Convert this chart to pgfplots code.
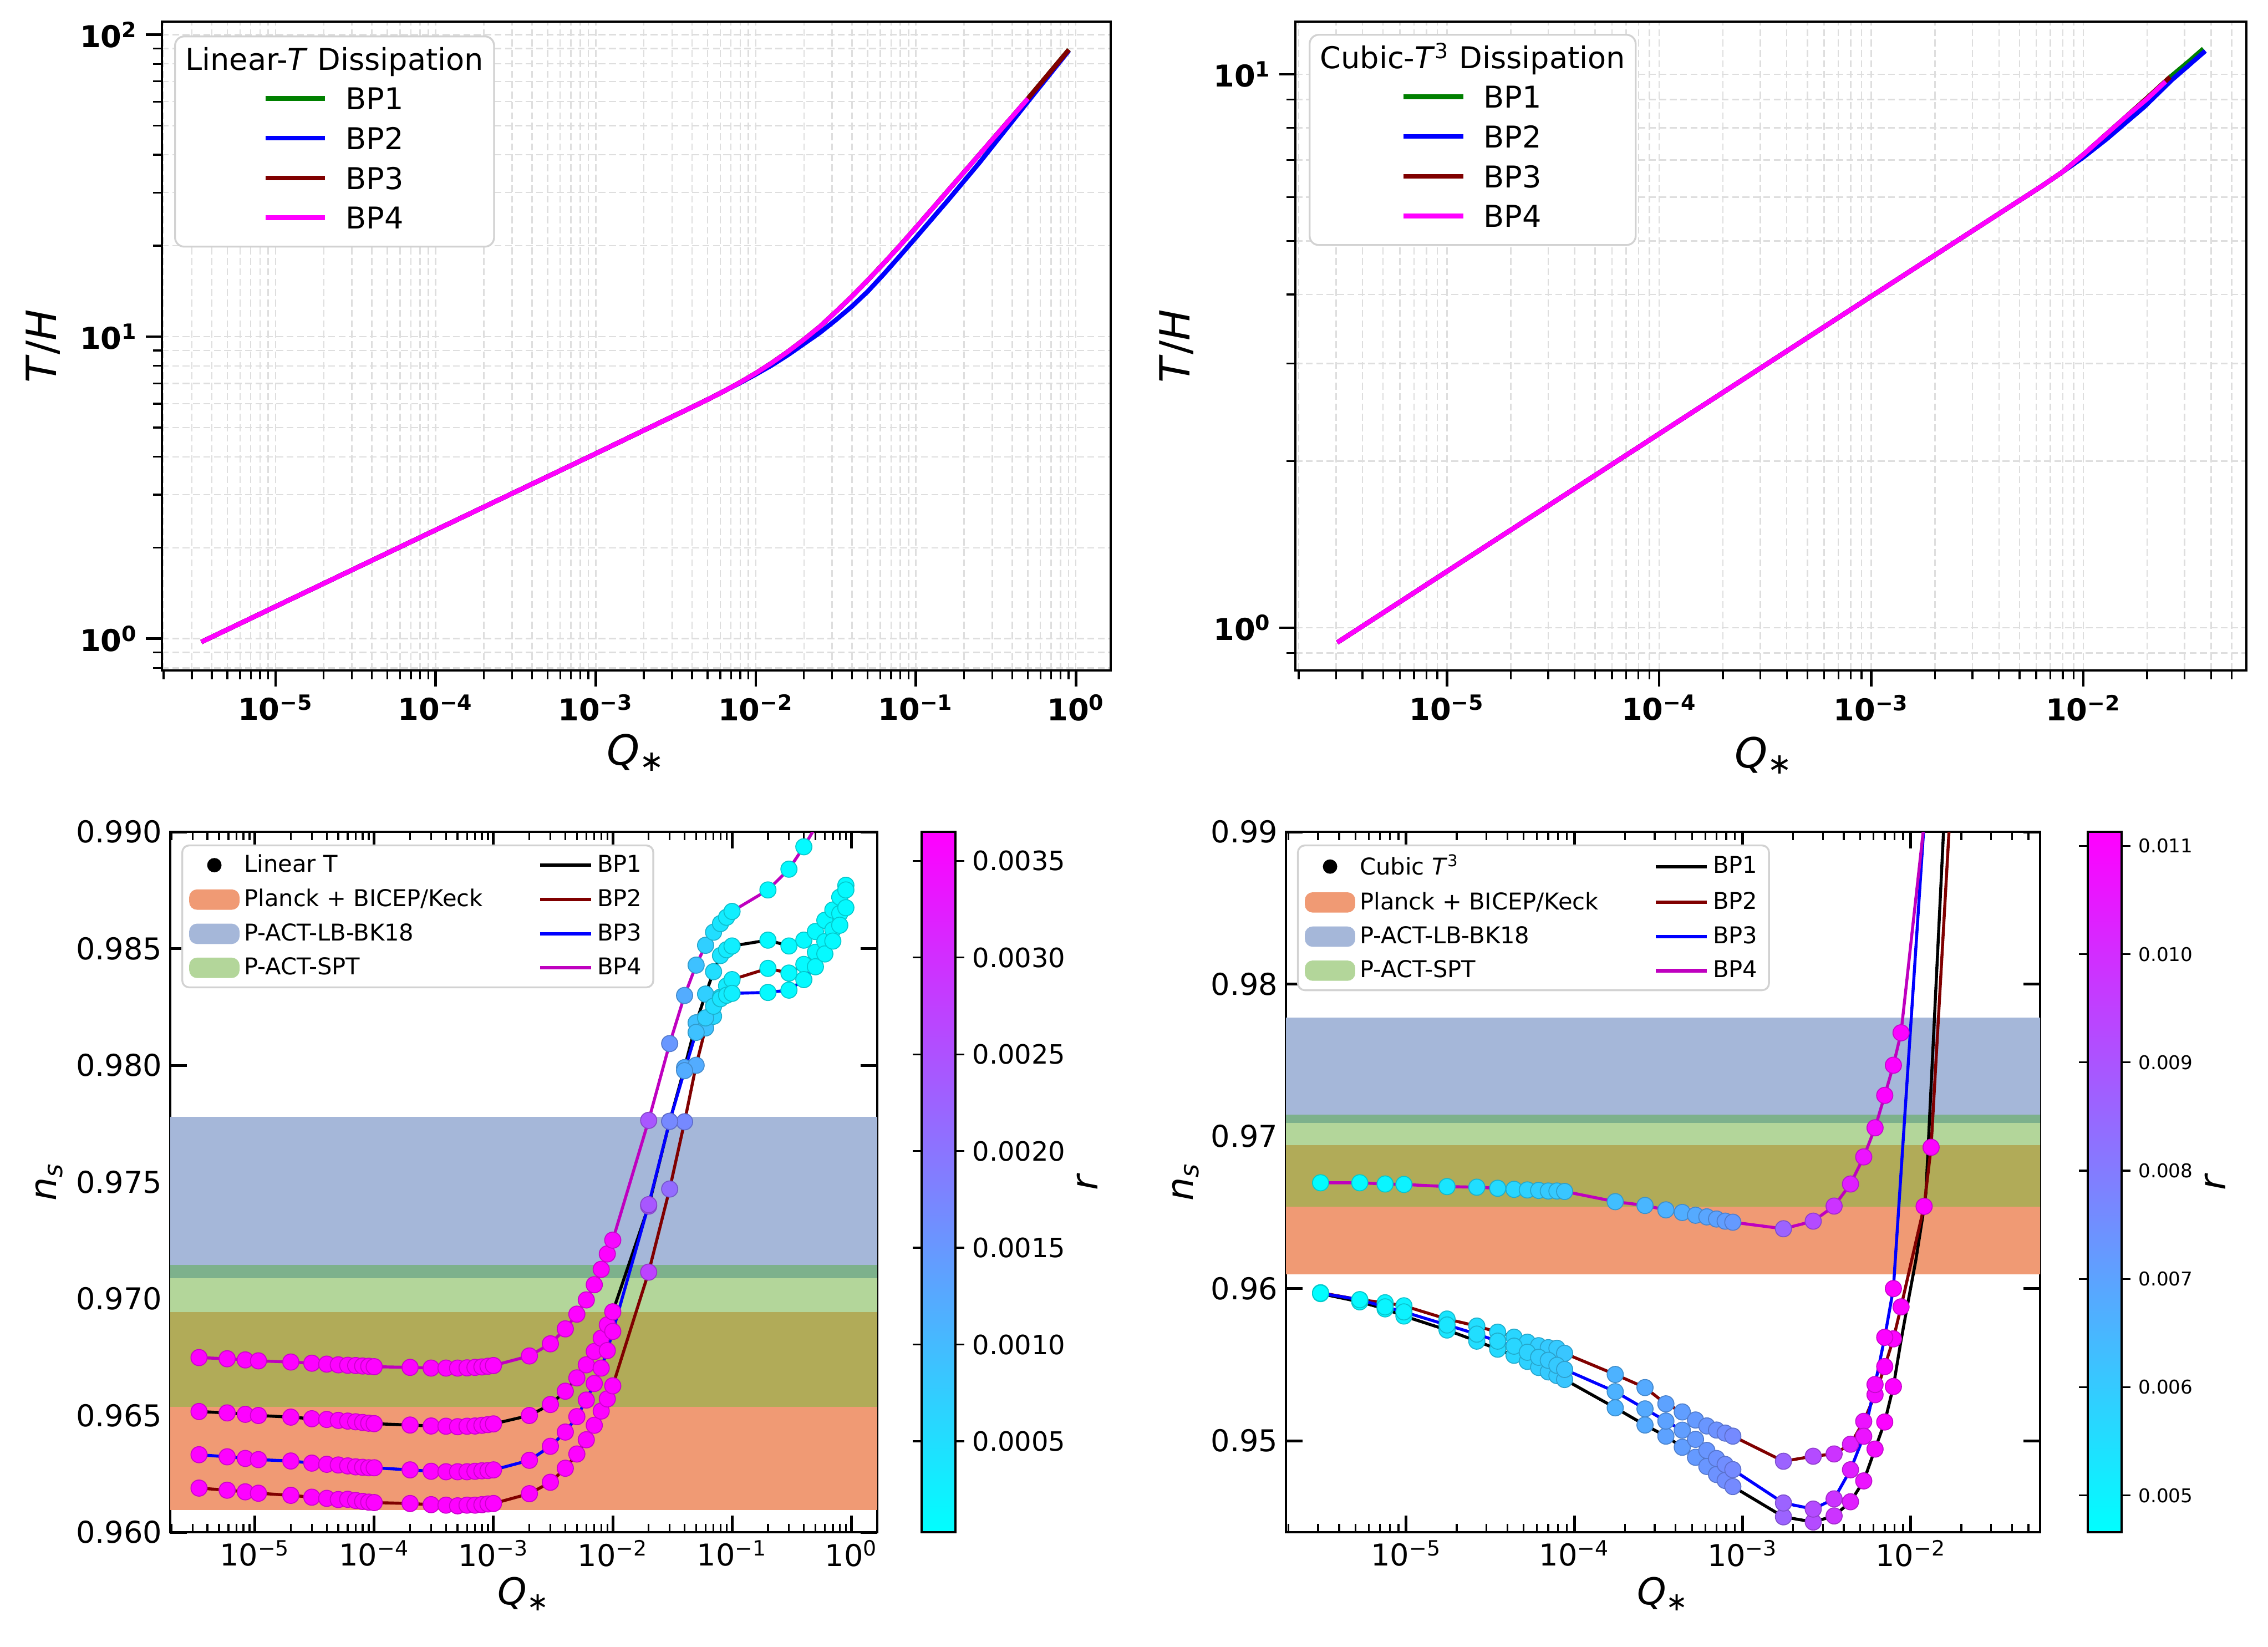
\documentclass[border=0pt]{standalone}
\usepackage{fontspec}
\setmainfont{DejaVu Sans}
\usepackage{pgfplots}
\usepackage{pgfplotstable}
\pgfplotsset{compat=1.18}

\definecolor{cO}{RGB}{240,154,116}
\definecolor{cOG}{RGB}{177,171,88}
\definecolor{cG}{RGB}{179,214,154}
\definecolor{cGB}{RGB}{125,177,140}
\definecolor{cB}{RGB}{165,183,217}
\definecolor{mgreen}{RGB}{0,128,0}
\definecolor{mblue}{RGB}{0,0,255}
\definecolor{mmaroon}{RGB}{128,0,0}
\definecolor{mmag}{RGB}{255,0,255}
\definecolor{mm}{RGB}{191,0,191}
\definecolor{gridc}{RGB}{222,222,222}
\definecolor{legc}{RGB}{210,210,210}

\newcommand{\bsci}[1]{\textbf{10\textsuperscript{#1}}}
\newcommand{\rsci}[1]{10\textsuperscript{#1}}

% ---------- Linear T tables: Q ns r ----------
\pgfplotstableread{
Q ns r
3.4e-6 0.96517 0.0036
5.85e-6 0.96511 0.0036
8.3e-6 0.96505 0.0036
1.07e-5 0.96500 0.0036
2e-5 0.96493 0.0036
3e-5 0.96486 0.0036
4e-5 0.96483 0.0036
5e-5 0.96479 0.0036
6e-5 0.96476 0.0036
7e-5 0.96473 0.0036
8e-5 0.96470 0.0036
9e-5 0.96467 0.0036
1e-4 0.96465 0.0036
2e-4 0.96459 0.0036
3e-4 0.96455 0.0036
4e-4 0.96454 0.0036
5e-4 0.96452 0.0036
6e-4 0.96454 0.0036
7e-4 0.96455 0.0036
8e-4 0.96458 0.0036
9e-4 0.96461 0.0036
1e-3 0.96464 0.0036
2e-3 0.96500 0.0036
3e-3 0.96547 0.0036
4e-3 0.96604 0.0036
5e-3 0.96661 0.0036
6e-3 0.96717 0.0036
7e-3 0.96774 0.0036
8e-3 0.96831 0.0036
9e-3 0.96888 0.0036
1e-2 0.96944 0.0036
2e-2 0.97397 0.0024
3e-2 0.97760 0.0017
4e-2 0.97990 0.0012
5e-2 0.98182 0.0009
6e-2 0.98305 0.0007
7e-2 0.98401 0.0005
8e-2 0.98470 0.0004
9e-2 0.98495 0.0003
0.1 0.98511 0.00025
0.2 0.98536 0.0001
0.3 0.98511 0.0001
0.4 0.98536 0.0001
0.5 0.98573 0.0001
0.6 0.98621 0.0001
0.7 0.98665 0.0001
0.8 0.98720 0.0001
0.9 0.98771 0.0001
}\LinA

\pgfplotstableread{
Q ns r
3.4e-6 0.96189 0.0036
5.85e-6 0.96180 0.0036
8.3e-6 0.96173 0.0036
1.07e-5 0.96167 0.0036
2e-5 0.96158 0.0036
3e-5 0.96150 0.0036
4e-5 0.96145 0.0036
5e-5 0.96140 0.0036
6e-5 0.96141 0.0036
7e-5 0.96136 0.0036
8e-5 0.96132 0.0036
9e-5 0.96129 0.0036
1e-4 0.96127 0.0036
2e-4 0.96123 0.0036
3e-4 0.96118 0.0036
4e-4 0.96116 0.0036
5e-4 0.96113 0.0036
6e-4 0.96116 0.0036
7e-4 0.96116 0.0036
8e-4 0.96118 0.0036
9e-4 0.96121 0.0036
1e-3 0.96123 0.0036
2e-3 0.96165 0.0036
3e-3 0.96214 0.0036
4e-3 0.96274 0.0036
5e-3 0.96335 0.0036
6e-3 0.96396 0.0036
7e-3 0.96458 0.0036
8e-3 0.96519 0.0036
9e-3 0.96571 0.0036
1e-2 0.96627 0.0036
2e-2 0.97114 0.0027
3e-2 0.97470 0.0021
4e-2 0.97758 0.0017
5e-2 0.98000 0.0012
6e-2 0.98160 0.0009
7e-2 0.98210 0.0006
8e-2 0.98292 0.0004
9e-2 0.98340 0.0003
0.1 0.98367 0.00025
0.2 0.98415 0.0001
0.3 0.98395 0.0001
0.4 0.98432 0.0001
0.5 0.98484 0.0001
0.6 0.98530 0.0001
0.7 0.98580 0.0001
0.8 0.98650 0.0001
0.9 0.98751 0.0001
}\LinB

\pgfplotstableread{
Q ns r
3.4e-6 0.96332 0.0036
5.85e-6 0.96323 0.0036
8.3e-6 0.96316 0.0036
1.07e-5 0.96311 0.0036
2e-5 0.96305 0.0036
3e-5 0.96296 0.0036
4e-5 0.96291 0.0036
5e-5 0.96288 0.0036
6e-5 0.96284 0.0036
7e-5 0.96280 0.0036
8e-5 0.96278 0.0036
9e-5 0.96276 0.0036
1e-4 0.96276 0.0036
2e-4 0.96267 0.0036
3e-4 0.96261 0.0036
4e-4 0.96259 0.0036
5e-4 0.96259 0.0036
6e-4 0.96259 0.0036
7e-4 0.96261 0.0036
8e-4 0.96263 0.0036
9e-4 0.96264 0.0036
1e-3 0.96267 0.0036
2e-3 0.96308 0.0036
3e-3 0.96368 0.0036
4e-3 0.96429 0.0036
5e-3 0.96495 0.0036
6e-3 0.96566 0.0036
7e-3 0.96637 0.0036
8e-3 0.96703 0.0036
9e-3 0.96778 0.0036
1e-2 0.96860 0.0036
2e-2 0.97403 0.0024
3e-2 0.97760 0.0017
4e-2 0.97977 0.0012
5e-2 0.98141 0.0009
6e-2 0.98203 0.0007
7e-2 0.98253 0.0005
8e-2 0.98285 0.0004
9e-2 0.98300 0.0003
0.1 0.98308 0.00025
0.2 0.98312 0.0001
0.3 0.98322 0.0001
0.4 0.98367 0.0001
0.5 0.98422 0.0001
0.6 0.98477 0.0001
0.7 0.98532 0.0001
0.8 0.98600 0.0001
0.9 0.98675 0.0001
}\LinC

\pgfplotstableread{
Q ns r
3.4e-6 0.96748 0.0036
5.85e-6 0.96743 0.0036
8.3e-6 0.96738 0.0036
1.07e-5 0.96734 0.0036
2e-5 0.96729 0.0036
3e-5 0.96724 0.0036
4e-5 0.96720 0.0036
5e-5 0.96717 0.0036
6e-5 0.96715 0.0036
7e-5 0.96714 0.0036
8e-5 0.96712 0.0036
9e-5 0.96711 0.0036
1e-4 0.96709 0.0036
2e-4 0.96706 0.0036
3e-4 0.96703 0.0036
4e-4 0.96703 0.0036
5e-4 0.96703 0.0036
6e-4 0.96704 0.0036
7e-4 0.96706 0.0036
8e-4 0.96708 0.0036
9e-4 0.96711 0.0036
1e-3 0.96714 0.0036
2e-3 0.96755 0.0036
3e-3 0.96807 0.0036
4e-3 0.96871 0.0036
5e-3 0.96934 0.0036
6e-3 0.96995 0.0036
7e-3 0.97060 0.0036
8e-3 0.97126 0.0036
9e-3 0.97192 0.0036
1e-2 0.97251 0.0035
2e-2 0.97764 0.0024
3e-2 0.98093 0.0015
4e-2 0.98299 0.0012
5e-2 0.98429 0.0009
6e-2 0.98514 0.0007
7e-2 0.98570 0.0005
8e-2 0.98607 0.0004
9e-2 0.98634 0.0003
0.1 0.98659 0.00025
0.2 0.98751 0.0001
0.3 0.98840 0.0001
0.4 0.98936 0.0001
0.5 0.99020 0.0001
}\LinD

% ---------- Cubic T^3 tables: Q ns P r ----------
\pgfplotstableread{
Q ns P r
3.1e-6 0.95967 0.95967 0.0047
5.3e-6 0.95913 0.95913 0.0048
7.5e-6 0.95867 0.95867 0.0049
9.7e-6 0.95820 0.95820 0.0050
1.75e-5 0.95728 0.95728 0.0053
2.63e-5 0.95655 0.95655 0.0055
3.5e-5 0.95602 0.95602 0.0056
4.38e-5 0.95562 0.95562 0.0057
5.25e-5 0.95522 0.95522 0.0058
6.13e-5 0.95482 0.95482 0.0059
7.0e-5 0.95453 0.95453 0.0060
7.88e-5 0.95429 0.95429 0.0060
8.75e-5 0.95403 0.95403 0.0061
1.75e-4 0.95217 0.95217 0.0066
2.63e-4 0.95104 0.95104 0.0068
3.5e-4 0.95031 0.95031 0.0070
4.38e-4 0.94958 0.94958 0.0071
5.25e-4 0.94892 0.94892 0.0072
6.13e-4 0.94832 0.94832 0.0073
7.0e-4 0.94779 0.94779 0.0074
7.88e-4 0.94740 0.94740 0.0075
8.75e-4 0.94700 0.94700 0.0076
1.75e-3 0.94501 0.94501 0.0086
2.63e-3 0.94467 0.94467 0.0092
3.5e-3 0.94507 0.94507 0.0098
4.38e-3 0.94600 0.94600 0.0103
5.25e-3 0.94737 0.94737 0.0106
6.13e-3 0.94946 0.94946 0.0108
7.0e-3 0.95124 0.95124 0.0110
7.88e-3 0.95357 0.95357 0.0110
8.75e-3 0.95660 nan 0.0110
9.64e-3 0.95915 nan 0.0110
1.07e-2 0.96183 nan 0.0110
1.18e-2 0.96481 nan 0.0110
1.23e-2 0.96630 nan 0.0110
1.75e-2 1.00100 nan 0.0110
}\CubA

\pgfplotstableread{
Q ns P r
3.1e-6 0.95973 0.95973 0.0047
5.3e-6 0.95927 0.95927 0.0048
7.5e-6 0.95907 0.95907 0.0049
9.7e-6 0.95887 0.95887 0.0050
1.75e-5 0.95800 0.95800 0.0053
2.63e-5 0.95754 0.95754 0.0055
3.5e-5 0.95714 0.95714 0.0056
4.38e-5 0.95681 0.95681 0.0057
5.25e-5 0.95648 0.95648 0.0058
6.13e-5 0.95625 0.95625 0.0059
7.0e-5 0.95612 0.95612 0.0060
7.88e-5 0.95608 0.95608 0.0060
8.75e-5 0.95575 0.95575 0.0061
1.75e-4 0.95436 0.95436 0.0066
2.63e-4 0.95350 0.95350 0.0068
3.5e-4 0.95243 0.95243 0.0070
4.38e-4 0.95190 0.95190 0.0071
5.25e-4 0.95137 0.95137 0.0072
6.13e-4 0.95098 0.95098 0.0073
7.0e-4 0.95071 0.95071 0.0074
7.88e-4 0.95051 0.95051 0.0075
8.75e-4 0.95031 0.95031 0.0076
1.75e-3 0.94866 0.94866 0.0086
2.63e-3 0.94899 0.94899 0.0092
3.5e-3 0.94914 0.94914 0.0098
4.38e-3 0.94978 0.94978 0.0103
5.25e-3 0.95128 0.95128 0.0106
6.13e-3 0.95303 0.95303 0.0108
7.0e-3 0.95488 0.95488 0.0110
7.88e-3 0.95670 0.95670 0.0110
8.75e-3 0.95880 0.95880 0.0110
1.01e-2 0.96183 nan 0.0110
1.2e-2 0.96540 0.96540 0.0110
1.32e-2 0.96928 0.96928 0.0110
1.75e-2 0.99312 nan 0.0110
}\CubB

\pgfplotstableread{
Q ns P r
3.1e-6 0.95970 0.95970 0.0047
5.3e-6 0.95927 0.95927 0.0048
7.5e-6 0.95880 0.95880 0.0049
9.7e-6 0.95847 0.95847 0.0050
1.75e-5 0.95761 0.95761 0.0053
2.63e-5 0.95701 0.95701 0.0055
3.5e-5 0.95655 0.95655 0.0056
4.38e-5 0.95622 0.95622 0.0057
5.25e-5 0.95582 0.95582 0.0058
6.13e-5 0.95549 0.95549 0.0059
7.0e-5 0.95529 0.95529 0.0060
7.88e-5 0.95496 0.95496 0.0060
8.75e-5 0.95469 0.95469 0.0061
1.75e-4 0.95323 0.95323 0.0066
2.63e-4 0.95210 0.95210 0.0068
3.5e-4 0.95130 0.95130 0.0070
4.38e-4 0.95070 0.95070 0.0071
5.25e-4 0.95010 0.95010 0.0072
6.13e-4 0.94937 0.94937 0.0073
7.0e-4 0.94884 0.94884 0.0074
7.88e-4 0.94845 0.94845 0.0075
8.75e-4 0.94811 0.94811 0.0076
1.75e-3 0.94592 0.94592 0.0086
2.63e-3 0.94552 0.94552 0.0092
3.5e-3 0.94619 0.94619 0.0098
4.38e-3 0.94810 0.94810 0.0103
5.25e-3 0.95030 0.95030 0.0106
6.13e-3 0.95370 0.95370 0.0108
7.0e-3 0.95680 0.95680 0.0110
7.88e-3 0.96000 0.96000 0.0110
1.75e-2 1.01800 nan 0.0110
}\CubC

\pgfplotstableread{
Q ns P r
3.1e-6 0.96695 0.96695 0.0047
5.3e-6 0.96695 0.96695 0.0048
7.5e-6 0.96687 0.96687 0.0049
9.7e-6 0.96684 0.96684 0.0050
1.75e-5 0.96670 0.96670 0.0053
2.63e-5 0.96666 0.96666 0.0055
3.5e-5 0.96659 0.96659 0.0056
4.38e-5 0.96652 0.96652 0.0057
5.25e-5 0.96648 0.96648 0.0058
6.13e-5 0.96645 0.96645 0.0059
7.0e-5 0.96641 0.96641 0.0060
7.88e-5 0.96641 0.96641 0.0060
8.75e-5 0.96638 0.96638 0.0061
1.75e-4 0.96571 0.96571 0.0063
2.63e-4 0.96546 0.96546 0.0065
3.5e-4 0.96517 0.96517 0.0066
4.38e-4 0.96500 0.96500 0.0067
5.25e-4 0.96482 0.96482 0.0068
6.13e-4 0.96471 0.96471 0.0069
7.0e-4 0.96457 0.96457 0.0070
7.88e-4 0.96443 0.96443 0.0071
8.75e-4 0.96436 0.96436 0.0072
1.75e-3 0.96393 0.96393 0.0086
2.63e-3 0.96443 0.96443 0.0092
3.5e-3 0.96542 0.96542 0.0098
4.38e-3 0.96687 0.96687 0.0103
5.25e-3 0.96865 0.96865 0.0106
6.13e-3 0.97056 0.97056 0.0108
7.0e-3 0.97269 0.97269 0.0110
7.88e-3 0.97467 0.97467 0.0110
8.75e-3 0.97680 0.97680 0.0110
1.75e-2 1.00700 nan 0.0110
}\CubD

\begin{document}
\begin{tikzpicture}
\path[use as bounding box] (0,0) rectangle (981.6pt,712.56pt);

% ================= TOP LEFT =================
\begin{axis}[name=tl, at={(70.08pt,422.4pt)}, anchor=south west,
  scale only axis, width=410.64pt, height=280.8pt,
  xmode=log, ymode=log,
  xmin=1.95e-6, xmax=1.65, ymin=0.785, ymax=110.4,
  tick pos=left, tick align=outside,
  grid=both,
  major grid style={gridc, line width=0.6pt, dash pattern=on 3pt off 1.5pt},
  minor grid style={gridc, line width=0.6pt, dash pattern=on 3pt off 1.5pt},
  major tick length=7pt, minor tick length=3.8pt,
  major tick style={line width=1.1pt, black}, minor tick style={line width=0.8pt, black},
  axis line style={line width=0.9pt},
  tick label style={font=\fontsize{13}{15.6}\selectfont},
  label style={font=\fontsize{18}{21.6}\selectfont},
  xtick={1e-5,1e-4,1e-3,1e-2,1e-1,1},
  xticklabels={\bsci{−5},\bsci{−4},\bsci{−3},\bsci{−2},\bsci{−1},\bsci{0}},
  minor xtick={2e-6,3e-6,4e-6,5e-6,6e-6,7e-6,8e-6,9e-6,2e-5,3e-5,4e-5,5e-5,6e-5,7e-5,8e-5,9e-5,2e-4,3e-4,4e-4,5e-4,6e-4,7e-4,8e-4,9e-4,2e-3,3e-3,4e-3,5e-3,6e-3,7e-3,8e-3,9e-3,2e-2,3e-2,4e-2,5e-2,6e-2,7e-2,8e-2,9e-2,0.2,0.3,0.4,0.5,0.6,0.7,0.8,0.9},
  ytick={1,10,100}, yticklabels={\bsci{0},\bsci{1},\bsci{2}},
  minor ytick={0.8,0.9,2,3,4,5,6,7,8,9,20,30,40,50,60,70,80,90},
  xlabel={\textit{Q}\textsubscript{∗}}, ylabel={\textit{T}/\textit{H}},
  xlabel style={at={(axis description cs:0.5,-0.1265)}, anchor=center},
  ylabel style={at={(axis description cs:-0.125,0.5)}, anchor=center},
]
\addplot[mgreen, line width=2pt, line join=round] coordinates {(3.44e-6,0.975) (1e-5,1.278) (1e-4,2.29) (1e-3,4.10) (2.512e-3,5.19) (3.981e-3,5.834) (5.012e-3,6.194) (6.310e-3,6.592) (7.943e-3,7.047) (1e-2,7.568) (1.259e-2,8.185) (1.585e-2,8.913) (1.995e-2,9.772) (2.512e-2,10.79) (3.162e-2,12.08) (3.981e-2,13.58) (5.012e-2,15.38) (6.310e-2,17.50) (7.943e-2,20.00) (0.1,22.96) (0.1585,30.41) (0.2512,40.27) (0.5012,61.38) (0.9036,89.13)};
\addplot[mblue, line width=2pt, line join=round] coordinates {(3.44e-6,0.975) (1e-5,1.278) (1e-4,2.29) (1e-3,4.10) (2.512e-3,5.19) (3.981e-3,5.834) (5.012e-3,6.194) (6.310e-3,6.592) (7.943e-3,7.02) (1e-2,7.50) (1.259e-2,8.04) (1.585e-2,8.69) (1.995e-2,9.46) (2.512e-2,10.30) (3.162e-2,11.35) (3.981e-2,12.58) (5.012e-2,14.12) (6.310e-2,16.11) (7.943e-2,18.49) (0.1,21.27) (0.1585,28.25) (0.2512,37.82) (0.5012,59.98) (0.9036,88.5)};
\addplot[mmaroon, line width=2pt, line join=round] coordinates {(3.44e-6,0.975) (1e-5,1.278) (1e-4,2.29) (1e-3,4.10) (2.512e-3,5.19) (3.981e-3,5.834) (5.012e-3,6.194) (6.310e-3,6.592) (7.943e-3,7.047) (1e-2,7.568) (1.259e-2,8.185) (1.585e-2,8.913) (1.995e-2,9.772) (2.512e-2,10.79) (3.162e-2,12.08) (3.981e-2,13.58) (5.012e-2,15.38) (6.310e-2,17.50) (7.943e-2,20.00) (0.1,22.96) (0.1585,30.41) (0.2512,40.27) (0.5012,61.38) (0.9036,89.13)};
\addplot[mmag, line width=2pt, line join=round] coordinates {(3.44e-6,0.975) (1e-5,1.278) (1e-4,2.29) (1e-3,4.10) (2.512e-3,5.19) (3.981e-3,5.834) (5.012e-3,6.194) (6.310e-3,6.592) (7.943e-3,7.047) (1e-2,7.568) (1.259e-2,8.185) (1.585e-2,8.913) (1.995e-2,9.772) (2.512e-2,10.79) (3.162e-2,12.08) (3.981e-2,13.58) (5.012e-2,15.38) (6.310e-2,17.50) (7.943e-2,20.00) (0.1,22.96) (0.1585,30.41) (0.2512,40.27) (0.5012,61.38)};
\end{axis}
\node[anchor=north west, xshift=5.28pt, yshift=-6pt, draw=legc, line width=0.8pt, fill=white, rounded corners=4pt, inner xsep=4.5pt, inner ysep=2.5pt, font=\fontsize{13}{17.2}\selectfont] at (tl.north west) {%
\begin{tabular}{@{}c@{}}
Linear-\textit{T} Dissipation\\
\begin{tabular}{@{}l@{\hspace{8.9pt}}l@{}}
\textcolor{mgreen}{\rule[0.3em]{25.7pt}{2pt}} & BP1\\
\textcolor{mblue}{\rule[0.3em]{25.7pt}{2pt}} & BP2\\
\textcolor{mmaroon}{\rule[0.3em]{25.7pt}{2pt}} & BP3\\
\textcolor{mmag}{\rule[0.3em]{25.7pt}{2pt}} & BP4
\end{tabular}
\end{tabular}};

% ================= TOP RIGHT =================
\begin{axis}[name=tr, at={(560.64pt,422.4pt)}, anchor=south west,
  scale only axis, width=411.6pt, height=280.8pt,
  xmode=log, ymode=log,
  xmin=1.93e-6, xmax=0.0587, ymin=0.837, ymax=12.45,
  tick pos=left, tick align=outside,
  grid=both,
  major grid style={gridc, line width=0.6pt, dash pattern=on 3pt off 1.5pt},
  minor grid style={gridc, line width=0.6pt, dash pattern=on 3pt off 1.5pt},
  major tick length=7pt, minor tick length=3.8pt,
  major tick style={line width=1.1pt, black}, minor tick style={line width=0.8pt, black},
  axis line style={line width=0.9pt},
  tick label style={font=\fontsize{13}{15.6}\selectfont},
  label style={font=\fontsize{18}{21.6}\selectfont},
  xtick={1e-5,1e-4,1e-3,1e-2},
  xticklabels={\bsci{−5},\bsci{−4},\bsci{−3},\bsci{−2}},
  minor xtick={2e-6,3e-6,4e-6,5e-6,6e-6,7e-6,8e-6,9e-6,2e-5,3e-5,4e-5,5e-5,6e-5,7e-5,8e-5,9e-5,2e-4,3e-4,4e-4,5e-4,6e-4,7e-4,8e-4,9e-4,2e-3,3e-3,4e-3,5e-3,6e-3,7e-3,8e-3,9e-3,2e-2,3e-2,4e-2,5e-2},
  ytick={1,10}, yticklabels={\bsci{0},\bsci{1}},
  minor ytick={0.9,2,3,4,5,6,7,8,9},
  xlabel={\textit{Q}\textsubscript{∗}}, ylabel={\textit{T}/\textit{H}},
  xlabel style={at={(axis description cs:0.493,-0.131)}, anchor=center},
  ylabel style={at={(axis description cs:-0.1248,0.5)}, anchor=center},
]
\addplot[mgreen, line width=2pt, line join=round] coordinates {(3.04e-6,0.94) (1e-5,1.264) (1e-4,2.24) (1e-3,3.97) (3.981e-3,5.591) (6.310e-3,6.266) (7.943e-3,6.653) (1e-2,7.161) (1.259e-2,7.745) (1.585e-2,8.375) (1.995e-2,9.057) (2.512e-2,9.817) (3.162e-2,10.57) (3.681e-2,11.12)};
\addplot[mblue, line width=2pt, line join=round] coordinates {(3.04e-6,0.94) (1e-5,1.264) (1e-4,2.24) (1e-3,3.97) (3.981e-3,5.591) (6.310e-3,6.266) (7.943e-3,6.653) (1e-2,7.079) (1.297e-2,7.656) (1.936e-2,8.730) (2.618e-2,9.772) (3.758e-2,11.02)};
\addplot[mmaroon, line width=2pt, line join=round] coordinates {(3.04e-6,0.94) (1e-5,1.264) (1e-4,2.24) (1e-3,3.97) (3.981e-3,5.591) (6.310e-3,6.266) (7.943e-3,6.653) (1e-2,7.161) (1.259e-2,7.745) (1.585e-2,8.375) (1.995e-2,9.057) (2.564e-2,9.886)};
\addplot[mmag, line width=2pt, line join=round] coordinates {(3.04e-6,0.94) (1e-5,1.264) (1e-4,2.24) (1e-3,3.97) (3.981e-3,5.591) (6.310e-3,6.266) (7.943e-3,6.653) (1e-2,7.161) (1.259e-2,7.745) (1.585e-2,8.375) (1.995e-2,9.02) (2.44e-2,9.70)};
\end{axis}
\node[anchor=north west, xshift=5.76pt, yshift=-5.3pt, draw=legc, line width=0.8pt, fill=white, rounded corners=4pt, inner xsep=4.5pt, inner ysep=2.5pt, font=\fontsize{13}{17.2}\selectfont] at (tr.north west) {%
\begin{tabular}{@{}c@{}}
Cubic-\textit{T}\textsuperscript{3} Dissipation\\
\begin{tabular}{@{}l@{\hspace{8.9pt}}l@{}}
\textcolor{mgreen}{\rule[0.3em]{25.7pt}{2pt}} & BP1\\
\textcolor{mblue}{\rule[0.3em]{25.7pt}{2pt}} & BP2\\
\textcolor{mmaroon}{\rule[0.3em]{25.7pt}{2pt}} & BP3\\
\textcolor{mmag}{\rule[0.3em]{25.7pt}{2pt}} & BP4
\end{tabular}
\end{tabular}};

% ================= BOTTOM LEFT =================
\begin{axis}[name=bl, at={(73.68pt,49.44pt)}, anchor=south west,
  scale only axis, width=306pt, height=303.12pt,
  xmode=log,
  xmin=1.95e-6, xmax=1.65, ymin=0.96, ymax=0.99,
  tick pos=both, tick align=inside,
  major tick length=7.2pt, minor tick length=3.6pt,
  major tick style={line width=1.2pt, black}, minor tick style={line width=0.8pt, black},
  axis line style={line width=1pt},
  tick label style={font=\fontsize{13}{15.6}\selectfont},
  label style={font=\fontsize{16}{19.2}\selectfont},
  colormap={cool}{rgb255=(0,255,255) rgb255=(255,0,255)},
  xtick={1e-5,1e-4,1e-3,1e-2,1e-1,1},
  xticklabels={\rsci{−5},\rsci{−4},\rsci{−3},\rsci{−2},\rsci{−1},\rsci{0}},
  minor xtick={2e-6,3e-6,4e-6,5e-6,6e-6,7e-6,8e-6,9e-6,2e-5,3e-5,4e-5,5e-5,6e-5,7e-5,8e-5,9e-5,2e-4,3e-4,4e-4,5e-4,6e-4,7e-4,8e-4,9e-4,2e-3,3e-3,4e-3,5e-3,6e-3,7e-3,8e-3,9e-3,2e-2,3e-2,4e-2,5e-2,6e-2,7e-2,8e-2,9e-2,0.2,0.3,0.4,0.5,0.6,0.7,0.8,0.9},
  ytick={0.96,0.965,0.97,0.975,0.98,0.985,0.99},
  yticklabels={0.960,0.965,0.970,0.975,0.980,0.985,0.990},
  xlabel={\textit{Q}\textsubscript{∗}}, ylabel={\textit{n}\textsubscript{\textit{s}}},
  xlabel style={at={(axis description cs:0.5,-0.088)}, anchor=center},
  ylabel style={at={(axis description cs:-0.171,0.5)}, anchor=center},
  point meta min=3e-5, point meta max=3.65e-3,
  colorbar,
  colorbar style={width=14.64pt, height=303.12pt,
    at={(parent axis.north east)}, anchor=north west, xshift=10.66pt,
    tick align=outside, scaled y ticks=false,
    major tick length=3.8pt, major tick style={line width=0.8pt, black},
    axis line style={line width=0.8pt},
    ytick={0.0005,0.001,0.0015,0.002,0.0025,0.003,0.0035},
    yticklabels={0.0005,0.0010,0.0015,0.0020,0.0025,0.0030,0.0035},
    yticklabel style={font=\fontsize{11.5}{13.8}\selectfont},
    ylabel={\textit{r}}, ylabel style={font=\fontsize{16}{19.2}\selectfont, at={(axis description cs:4.9,0.5)}, anchor=center}},
  legend columns=2, legend cell align=left,
  legend style={at={(0.0157,0.9819)}, anchor=north west, draw=legc, line width=0.8pt, fill=white, rounded corners=3pt,
     font=\fontsize{10}{12}\selectfont, row sep=1.8pt,
     /tikz/every even column/.append style={column sep=22pt}},
]
\addplot[fill=cO, draw=none, forget plot] coordinates {(1e-6,0.96094) (10,0.96094) (10,0.96538) (1e-6,0.96538)};
\addplot[fill=cOG, draw=none, forget plot] coordinates {(1e-6,0.96538) (10,0.96538) (10,0.96944) (1e-6,0.96944)};
\addplot[fill=cG, draw=none, forget plot] coordinates {(1e-6,0.96944) (10,0.96944) (10,0.97088) (1e-6,0.97088)};
\addplot[fill=cGB, draw=none, forget plot] coordinates {(1e-6,0.97088) (10,0.97088) (10,0.97144) (1e-6,0.97144)};
\addplot[fill=cB, draw=none, forget plot] coordinates {(1e-6,0.97144) (10,0.97144) (10,0.97779) (1e-6,0.97779)};
\addplot[scatter, only marks, mark=*, mark size=3.5pt, scatter src=explicit, forget plot] table[x=Q, y=ns, meta=r] {\LinA};
\addplot[scatter, only marks, mark=*, mark size=3.5pt, scatter src=explicit, forget plot] table[x=Q, y=ns, meta=r] {\LinB};
\addplot[scatter, only marks, mark=*, mark size=3.5pt, scatter src=explicit, forget plot] table[x=Q, y=ns, meta=r] {\LinC};
\addplot[scatter, only marks, mark=*, mark size=3.5pt, scatter src=explicit, forget plot] table[x=Q, y=ns, meta=r] {\LinD};
\addplot[black, line width=1.3pt, line join=round, forget plot] table[x=Q, y=ns] {\LinA};
\addplot[mmaroon, line width=1.3pt, line join=round, forget plot] table[x=Q, y=ns] {\LinB};
\addplot[mblue, line width=1.3pt, line join=round, forget plot] table[x=Q, y=ns] {\LinC};
\addplot[mm, line width=1.3pt, line join=round, forget plot] table[x=Q, y=ns] {\LinD};
\addlegendimage{legend image code/.code={\fill[black] (10.5pt,0pt) circle (2.7pt);}}
\addlegendentry{Linear T}
\addlegendimage{legend image code/.code={\draw[black, line width=1.5pt] (0pt,0pt) -- (22pt,0pt);}}
\addlegendentry{BP1}
\addlegendimage{legend image code/.code={\fill[cO] (0pt,-4pt) rectangle (21pt,4pt);}}
\addlegendentry{Planck + BICEP/Keck}
\addlegendimage{legend image code/.code={\draw[mmaroon, line width=1.5pt] (0pt,0pt) -- (22pt,0pt);}}
\addlegendentry{BP2}
\addlegendimage{legend image code/.code={\fill[cB] (0pt,-4pt) rectangle (21pt,4pt);}}
\addlegendentry{P-ACT-LB-BK18}
\addlegendimage{legend image code/.code={\draw[mblue, line width=1.5pt] (0pt,0pt) -- (22pt,0pt);}}
\addlegendentry{BP3}
\addlegendimage{legend image code/.code={\fill[cG] (0pt,-4pt) rectangle (21pt,4pt);}}
\addlegendentry{P-ACT-SPT}
\addlegendimage{legend image code/.code={\draw[mm, line width=1.5pt] (0pt,0pt) -- (22pt,0pt);}}
\addlegendentry{BP4}
\end{axis}

% ================= BOTTOM RIGHT =================
\begin{axis}[name=br, at={(556.56pt,49.44pt)}, anchor=south west,
  scale only axis, width=326.4pt, height=303.12pt,
  xmode=log,
  xmin=1.93e-6, xmax=0.0587, ymin=0.944, ymax=0.99,
  tick pos=both, tick align=inside,
  major tick length=7.2pt, minor tick length=3.6pt,
  major tick style={line width=1.2pt, black}, minor tick style={line width=0.8pt, black},
  axis line style={line width=1pt},
  tick label style={font=\fontsize{13}{15.6}\selectfont},
  label style={font=\fontsize{16}{19.2}\selectfont},
  colormap={cool}{rgb255=(0,255,255) rgb255=(255,0,255)},
  xtick={1e-5,1e-4,1e-3,1e-2},
  xticklabels={\rsci{−5},\rsci{−4},\rsci{−3},\rsci{−2}},
  minor xtick={2e-6,3e-6,4e-6,5e-6,6e-6,7e-6,8e-6,9e-6,2e-5,3e-5,4e-5,5e-5,6e-5,7e-5,8e-5,9e-5,2e-4,3e-4,4e-4,5e-4,6e-4,7e-4,8e-4,9e-4,2e-3,3e-3,4e-3,5e-3,6e-3,7e-3,8e-3,9e-3,2e-2,3e-2,4e-2,5e-2},
  ytick={0.95,0.96,0.97,0.98,0.99},
  yticklabels={0.95,0.96,0.97,0.98,0.99},
  xlabel={\textit{Q}\textsubscript{∗}}, ylabel={\textit{n}\textsubscript{\textit{s}}},
  xlabel style={at={(axis description cs:0.5,-0.088)}, anchor=center},
  ylabel style={at={(axis description cs:-0.133,0.5)}, anchor=center},
  point meta min=0.00466, point meta max=0.01113,
  colorbar,
  colorbar style={width=14.64pt, height=303.12pt,
    at={(parent axis.north east)}, anchor=north west, xshift=12.1pt,
    tick align=outside, scaled y ticks=false,
    major tick length=3.8pt, major tick style={line width=0.8pt, black},
    axis line style={line width=0.8pt},
    ytick={0.005,0.006,0.007,0.008,0.009,0.010,0.011},
    yticklabels={0.005,0.006,0.007,0.008,0.009,0.010,0.011},
    yticklabel style={font=\fontsize{8.2}{9.8}\selectfont},
    ylabel={\textit{r}}, ylabel style={font=\fontsize{16}{19.2}\selectfont, at={(axis description cs:3.77,0.5)}, anchor=center}},
  legend columns=2, legend cell align=left,
  legend style={at={(0.0147,0.9819)}, anchor=north west, draw=legc, line width=0.8pt, fill=white, rounded corners=3pt,
     font=\fontsize{10}{12}\selectfont, row sep=1.8pt,
     /tikz/every even column/.append style={column sep=22pt}},
]
\addplot[fill=cO, draw=none, forget plot] coordinates {(1e-6,0.96094) (1,0.96094) (1,0.96538) (1e-6,0.96538)};
\addplot[fill=cOG, draw=none, forget plot] coordinates {(1e-6,0.96538) (1,0.96538) (1,0.96944) (1e-6,0.96944)};
\addplot[fill=cG, draw=none, forget plot] coordinates {(1e-6,0.96944) (1,0.96944) (1,0.97088) (1e-6,0.97088)};
\addplot[fill=cGB, draw=none, forget plot] coordinates {(1e-6,0.97088) (1,0.97088) (1,0.97144) (1e-6,0.97144)};
\addplot[fill=cB, draw=none, forget plot] coordinates {(1e-6,0.97144) (1,0.97144) (1,0.97779) (1e-6,0.97779)};
\addplot[scatter, only marks, mark=*, mark size=3.5pt, scatter src=explicit, forget plot] table[x=Q, y=P, meta=r] {\CubA};
\addplot[scatter, only marks, mark=*, mark size=3.5pt, scatter src=explicit, forget plot] table[x=Q, y=P, meta=r] {\CubB};
\addplot[scatter, only marks, mark=*, mark size=3.5pt, scatter src=explicit, forget plot] table[x=Q, y=P, meta=r] {\CubC};
\addplot[scatter, only marks, mark=*, mark size=3.5pt, scatter src=explicit, forget plot] table[x=Q, y=P, meta=r] {\CubD};
\addplot[black, line width=1.3pt, line join=round, forget plot] table[x=Q, y=ns] {\CubA};
\addplot[mmaroon, line width=1.3pt, line join=round, forget plot] table[x=Q, y=ns] {\CubB};
\addplot[mblue, line width=1.3pt, line join=round, forget plot] table[x=Q, y=ns] {\CubC};
\addplot[mm, line width=1.3pt, line join=round, forget plot] table[x=Q, y=ns] {\CubD};
\addlegendimage{legend image code/.code={\fill[black] (10.5pt,0pt) circle (2.7pt);}}
\addlegendentry{Cubic \textit{T}\textsuperscript{3}}
\addlegendimage{legend image code/.code={\draw[black, line width=1.5pt] (0pt,0pt) -- (22pt,0pt);}}
\addlegendentry{BP1}
\addlegendimage{legend image code/.code={\fill[cO] (0pt,-4pt) rectangle (21pt,4pt);}}
\addlegendentry{Planck + BICEP/Keck}
\addlegendimage{legend image code/.code={\draw[mmaroon, line width=1.5pt] (0pt,0pt) -- (22pt,0pt);}}
\addlegendentry{BP2}
\addlegendimage{legend image code/.code={\fill[cB] (0pt,-4pt) rectangle (21pt,4pt);}}
\addlegendentry{P-ACT-LB-BK18}
\addlegendimage{legend image code/.code={\draw[mblue, line width=1.5pt] (0pt,0pt) -- (22pt,0pt);}}
\addlegendentry{BP3}
\addlegendimage{legend image code/.code={\fill[cG] (0pt,-4pt) rectangle (21pt,4pt);}}
\addlegendentry{P-ACT-SPT}
\addlegendimage{legend image code/.code={\draw[mm, line width=1.5pt] (0pt,0pt) -- (22pt,0pt);}}
\addlegendentry{BP4}
\end{axis}
\end{tikzpicture}
\end{document}
